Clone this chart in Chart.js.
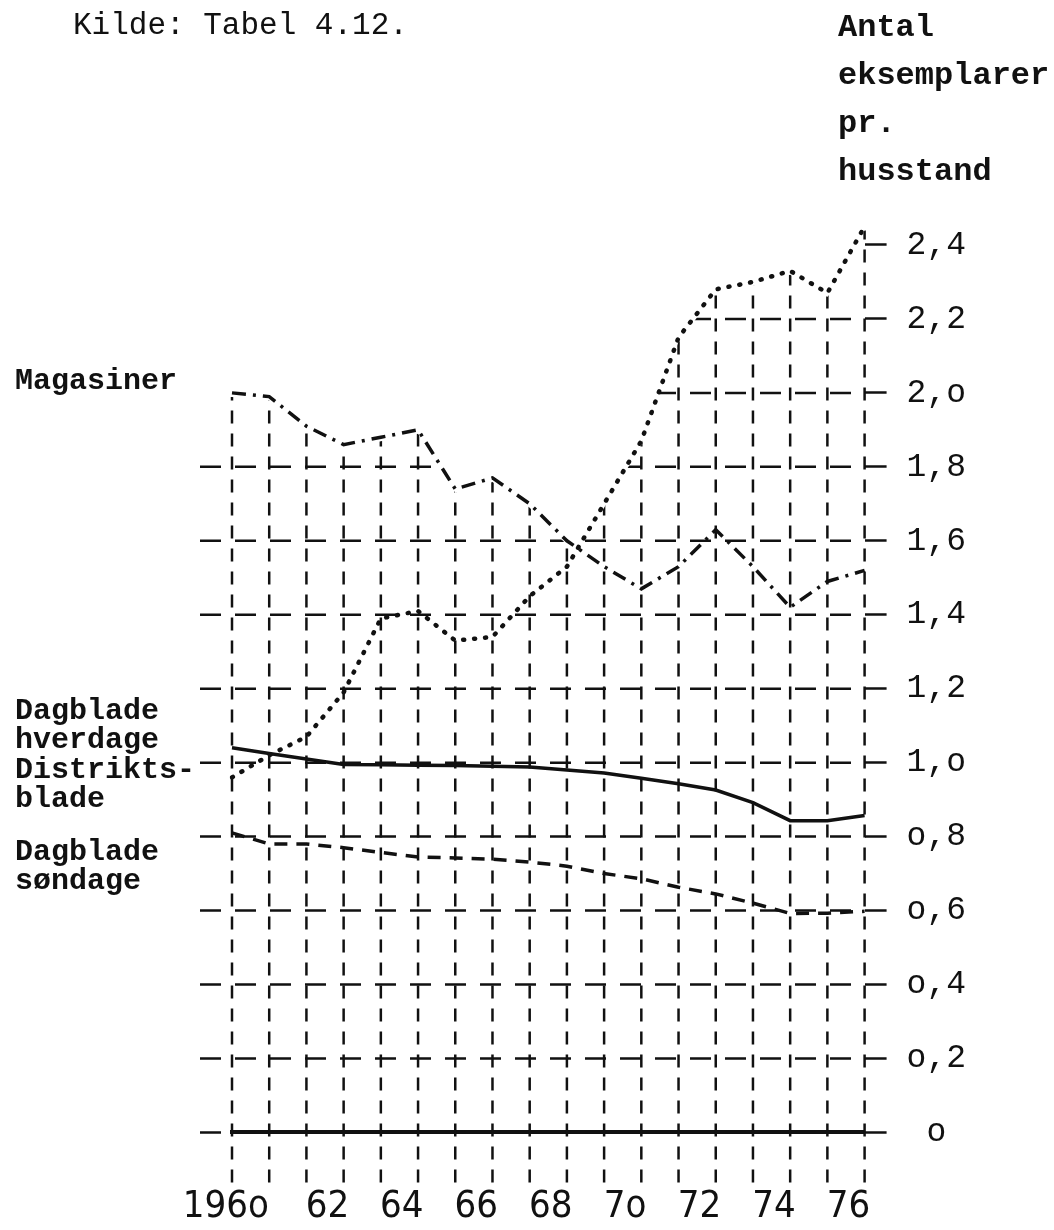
<!DOCTYPE html>
<html>
<head>
<meta charset="utf-8">
<script src="https://cdn.jsdelivr.net/npm/chart.js@4.4.1/dist/chart.umd.min.js"></script>
<style>
  html, body { margin: 0; padding: 0; background: #fff; }
  #wrap { position: relative; width: 1054px; height: 1230px; }
</style>
</head>
<body>
<div id="wrap"><canvas id="chart"></canvas></div>
<script>
// years on the x axis, typewriter style labels every second year
const years = [1960, 1961, 1962, 1963, 1964, 1965, 1966, 1967, 1968,
               1969, 1970, 1971, 1972, 1973, 1974, 1975, 1976, 1977];
const xTickLabels = ["196o     ", "62", "64", "66", "68", "7o", "72", "74", "76"];

const yTickValues = [0, 0.2, 0.4, 0.6, 0.8, 1.0, 1.2, 1.4, 1.6, 1.8, 2.0, 2.2, 2.4];
const yTickLabels = ["o", "o,2", "o,4", "o,6", "o,8", "1,o", "1,2", "1,4", "1,6", "1,8", "2,o", "2,2", "2,4"];

// copies per household
const magasiner = [2.00, 1.99, 1.91, 1.86, 1.88, 1.90, 1.74, 1.77, 1.70,
                   1.60, 1.53, 1.47, 1.53, 1.63, 1.53, 1.42, 1.49, 1.52];
const distriktsblade = [0.96, 1.02, 1.07, 1.19, 1.39, 1.41, 1.33, 1.34, 1.45,
                        1.53, 1.70, 1.87, 2.15, 2.28, 2.30, 2.33, 2.27, 2.45];
const dagbladeHverdage = [1.04, 1.025, 1.01, 0.995, 0.994, 0.993, 0.992, 0.99, 0.988,
                          0.98, 0.972, 0.958, 0.943, 0.926, 0.892, 0.843, 0.843, 0.857];
const dagbladeSondage = [0.81, 0.78, 0.78, 0.77, 0.757, 0.745, 0.742, 0.739, 0.731,
                         0.72, 0.70, 0.686, 0.663, 0.645, 0.62, 0.592, 0.593, 0.598];

const sourceText = "Kilde: Tabel 4.12.";
const axisTitle = ["Antal", "eksemplarer", "pr.", "husstand"];
const seriesLabels = [
  { lines: ["Magasiner"], top: 381 },
  { lines: ["Dagblade", "hverdage"], top: 711 },
  { lines: ["Distrikts-", "blade"], top: 770 },
  { lines: ["Dagblade", "søndage"], top: 852 }
];

const ink = "#111";

// dashed grid drawn only below the upper curves, like the typed original
const dropGrid = {
  id: "dropGrid",
  beforeDatasetsDraw(chart) {
    const { ctx, chartArea, scales: { x, y } } = chart;
    const left = chartArea.left, right = chartArea.right;
    const base = y.getPixelForValue(0);
    ctx.save();
    ctx.beginPath();
    [magasiner, distriktsblade].forEach(vals => {
      ctx.moveTo(left - 34, base + 60);
      ctx.lineTo(left - 34, y.getPixelForValue(vals[0]) + 4);
      vals.forEach((v, i) => ctx.lineTo(x.getPixelForValue(i), y.getPixelForValue(v) + 4));
      ctx.lineTo(right + 6, y.getPixelForValue(vals[vals.length - 1]) + 4);
      ctx.lineTo(right + 6, base + 60);
      ctx.closePath();
    });
    ctx.clip();

    ctx.strokeStyle = ink;
    ctx.lineWidth = 2.5;
    ctx.setLineDash([21, 14]);
    yTickValues.forEach(v => {
      const py = y.getPixelForValue(v);
      ctx.beginPath();
      ctx.moveTo(left - 32, py);
      ctx.lineTo(right, py);
      ctx.stroke();
    });
    ctx.setLineDash([13, 10]);
    years.forEach((yr, i) => {
      const px = x.getPixelForValue(i);
      ctx.beginPath();
      ctx.moveTo(px, base + 50);
      ctx.lineTo(px, chartArea.top - 20);
      ctx.stroke();
    });
    ctx.restore();
  },
  afterDraw(chart) {
    const { ctx } = chart;
    ctx.save();
    ctx.fillStyle = ink;
    ctx.textBaseline = "middle";
    ctx.textAlign = "left";
    ctx.font = '31px "Liberation Mono", monospace';
    ctx.fillText(sourceText, 73, 26);
    ctx.font = 'bold 32px "Liberation Mono", monospace';
    axisTitle.forEach((t, i) => ctx.fillText(t, 838, 28 + i * 48));
    ctx.font = 'bold 30px "Liberation Mono", monospace';
    seriesLabels.forEach(s => {
      s.lines.forEach((t, i) => ctx.fillText(t, 15, s.top + i * 29));
    });
    ctx.restore();
  }
};

new Chart(document.getElementById("chart"), {
  type: "line",
  data: {
    labels: years.map(String),
    datasets: [
      {
        label: "Magasiner",
        data: magasiner,
        borderColor: ink,
        borderWidth: 3.5,
        borderDash: [14, 7, 3, 7]
      },
      {
        label: "Distriktsblade",
        data: distriktsblade,
        borderColor: ink,
        borderWidth: 4.5,
        borderDash: [1, 10],
        borderCapStyle: "round"
      },
      {
        label: "Dagblade hverdage",
        data: dagbladeHverdage,
        borderColor: ink,
        borderWidth: 3.5
      },
      {
        label: "Dagblade søndage",
        data: dagbladeSondage,
        borderColor: ink,
        borderWidth: 3.5,
        borderDash: [13, 9]
      }
    ]
  },
  plugins: [dropGrid],
  options: {
    responsive: true,
    maintainAspectRatio: false,
    animation: false,
    layout: { padding: { left: 232, top: 208, right: 68, bottom: -52 } },
    elements: { point: { radius: 0 }, line: { tension: 0 } },
    plugins: {
      legend: { display: false },
      tooltip: { enabled: false }
    },
    scales: {
      x: {
        offset: false,
        grid: { display: false, drawTicks: false },
        border: { display: true, color: ink, width: 4 },
        ticks: {
          autoSkip: false,
          maxRotation: 0,
          padding: 52,
          labelOffset: 21,
          color: ink,
          font: { family: '"Liberation Sans Narrow", "DejaVu Sans Condensed", "DejaVu Sans", sans-serif', size: 38 },
          callback: (v, i) => (i % 2 === 0 ? xTickLabels[i / 2] : "")
        }
      },
      y: {
        position: "right",
        min: 0,
        max: 2.5,
        afterBuildTicks: scale => { scale.ticks = yTickValues.map(v => ({ value: v })); },
        grid: { drawOnChartArea: false, drawTicks: true, tickLength: 22, tickWidth: 2.5, tickColor: ink },
        border: { display: false },
        ticks: {
          padding: 20,
          crossAlign: "center",
          color: ink,
          font: { family: '"Liberation Mono", monospace', size: 33 },
          callback: (v, i) => yTickLabels[i]
        }
      }
    }
  }
});
</script>
</body>
</html>
